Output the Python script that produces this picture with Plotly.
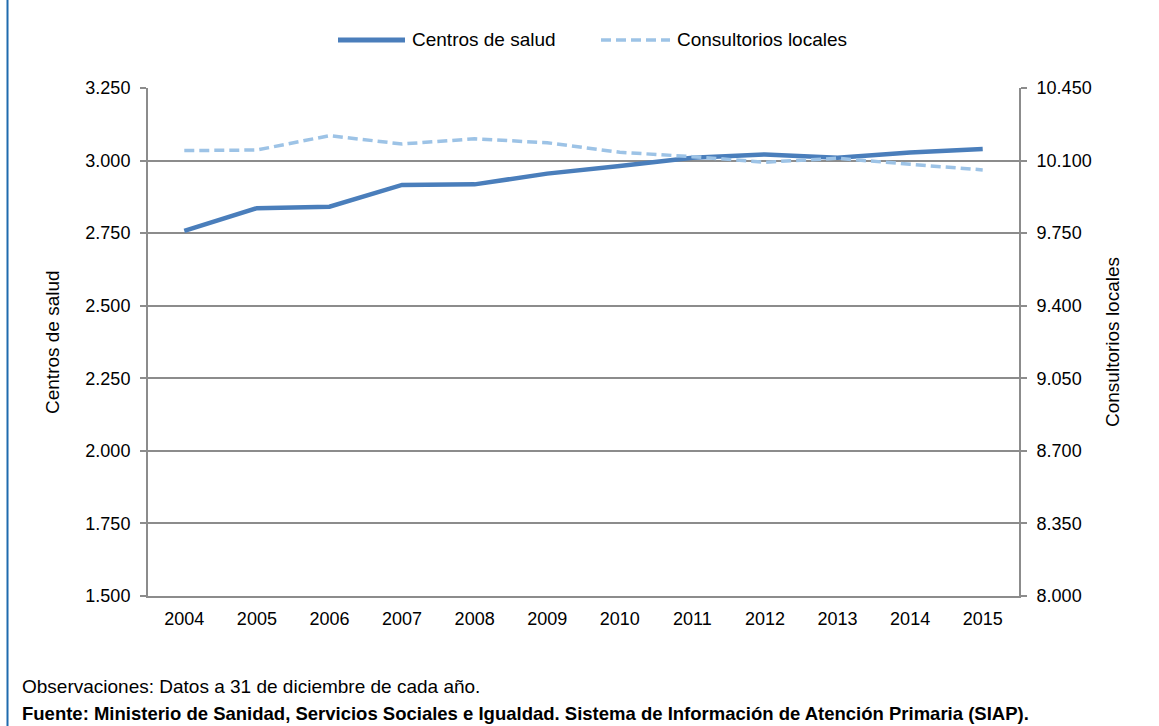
import plotly.graph_objects as go

years = ["2004", "2005", "2006", "2007", "2008", "2009", "2010", "2011", "2012", "2013", "2014", "2015"]
centros_salud = [2758, 2836, 2841, 2916, 2918, 2955, 2981, 3010, 3021, 3010, 3028, 3040]
consultorios_locales = [10148, 10151, 10220, 10180, 10205, 10186, 10140, 10119, 10092, 10111, 10082, 10055]

left_ticks = [1500, 1750, 2000, 2250, 2500, 2750, 3000, 3250]
right_ticks = [8000, 8350, 8700, 9050, 9400, 9750, 10100, 10450]

W, H = 1159, 726
L, R, T, B = 148, 1019, 88, 596
FONT = "Liberation Sans, Arial, Helvetica, sans-serif"
SOLID = "#4A7EBB"
DASHC = "#9DC3E6"
GRID = "#8C8C8C"


def px(x):
    return (x - L) / (R - L)


def py(y):
    return (B - y) / (B - T)


fig = go.Figure()
fig.add_trace(go.Scatter(x=years, y=centros_salud, mode="lines", name="Centros de salud",
                         line=dict(color=SOLID, width=4.5), yaxis="y", showlegend=False))
fig.add_trace(go.Scatter(x=years, y=consultorios_locales, mode="lines", name="Consultorios locales",
                         line=dict(color=DASHC, width=3.5, dash="10px,5px"), yaxis="y2", showlegend=False))

fig.update_layout(
    width=W, height=H,
    margin=dict(l=L, r=W - R, t=T, b=H - B, pad=0),
    paper_bgcolor="white", plot_bgcolor="white",
    separators=",.",
    font=dict(family=FONT, size=18, color="black"),
    xaxis=dict(type="category", range=[-0.5, len(years) - 0.5], showgrid=False, showline=True,
               linecolor=GRID, linewidth=2, ticks="", tickfont=dict(size=18), ticklabelstandoff=5,
               zeroline=False),
    yaxis=dict(range=[1500, 3250], tickvals=left_ticks, tickformat=",d", showgrid=True,
               gridcolor=GRID, gridwidth=2, showline=True, linecolor=GRID, linewidth=2,
               ticks="outside", ticklen=6, tickcolor=GRID, tickwidth=2, zeroline=False,
               ticklabelstandoff=6),
    yaxis2=dict(range=[8000, 10450], tickvals=right_ticks, tickformat=",d", overlaying="y",
                side="right", showgrid=False, showline=True, linecolor=GRID, linewidth=2,
                ticks="outside", ticklen=6, tickcolor=GRID, tickwidth=2, zeroline=False,
                ticklabelstandoff=6),
)

# custom legend
fig.add_shape(type="line", xref="paper", yref="paper", x0=px(338), x1=px(405), y0=py(40), y1=py(40),
              line=dict(color=SOLID, width=5))
fig.add_annotation(xref="paper", yref="paper", x=px(410), y=py(40), text="Centros de salud",
                   showarrow=False, xanchor="left", yanchor="middle", font=dict(size=19))
fig.add_shape(type="line", xref="paper", yref="paper", x0=px(601), x1=px(670), y0=py(40), y1=py(40),
              line=dict(color=DASHC, width=3.5, dash="10px,5px"))
fig.add_annotation(xref="paper", yref="paper", x=px(675), y=py(40), text="Consultorios locales",
                   showarrow=False, xanchor="left", yanchor="middle", font=dict(size=19))

# axis titles
fig.add_annotation(xref="paper", yref="paper", x=px(52), y=py(342), text="Centros de salud",
                   textangle=-90, showarrow=False, xanchor="center", yanchor="middle", font=dict(size=19))
fig.add_annotation(xref="paper", yref="paper", x=px(1112), y=py(342), text="Consultorios locales",
                   textangle=-90, showarrow=False, xanchor="center", yanchor="middle", font=dict(size=19))

# footer notes
fig.add_annotation(xref="paper", yref="paper", x=px(20), y=py(686), text="Observaciones: Datos a 31 de diciembre de cada año.",
                   showarrow=False, xanchor="left", yanchor="middle", font=dict(size=19))
fig.add_annotation(xref="paper", yref="paper", x=px(20), y=py(713),
                   text="<b>Fuente: Ministerio de Sanidad, Servicios Sociales e Igualdad. Sistema de Información de Atención Primaria (SIAP).</b>",
                   showarrow=False, xanchor="left", yanchor="middle", font=dict(size=18.5))

# left frame border
fig.add_shape(type="line", xref="paper", yref="paper", x0=px(7.5), x1=px(7.5), y0=py(0), y1=py(H),
              line=dict(color="#1F6BAE", width=2))

fig.write_html("out.html", config={"displayModeBar": False},
               post_script="document.body.style.margin='0';document.body.style.padding='0';")
